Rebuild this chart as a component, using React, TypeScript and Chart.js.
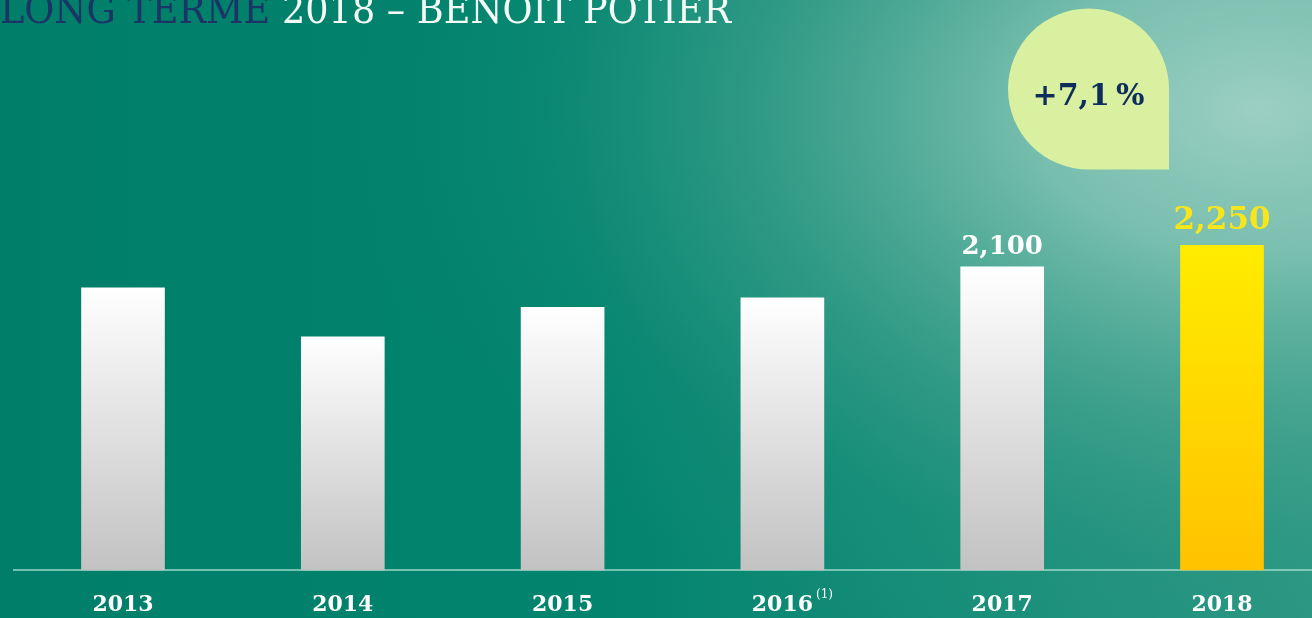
import React, { useEffect, useRef } from "react";
import { Chart, registerables } from "chart.js";

Chart.register(...registerables);

const years = ["2013", "2014", "2015", "2016", "2017", "2018"];
const values = [1955, 1615, 1820, 1885, 2100, 2250];
const footnotes = ["", "", "", "(1)", "", ""];
const labelledIndices = [4, 5];
const titleParts = ["LONG TERME ", "2018 – BENOIT POTIER"];
const titleColors = ["#1b3466", "#f3faf6"];

const SERIF = "'DejaVu Serif', serif";

function barFill(ctx: any) {
  const chart = ctx.chart;
  const last = ctx.dataIndex === values.length - 1;
  const y = chart.scales && chart.scales.y;
  if (!y || ctx.dataIndex === undefined) return last ? "#ffd800" : "#e8e8e8";
  const v = values[ctx.dataIndex];
  const top = y.getPixelForValue(v);
  const base = y.getPixelForValue(0);
  if (!isFinite(top) || !isFinite(base) || top === base) return last ? "#ffd800" : "#e8e8e8";
  const g = chart.ctx.createLinearGradient(0, top, 0, base);
  if (last) {
    g.addColorStop(0, "#ffec00");
    g.addColorStop(1, "#ffc200");
  } else {
    g.addColorStop(0, "#ffffff");
    g.addColorStop(1, "#c2c2c2");
  }
  return g;
}

const decorPlugin = {
  id: "decor",
  beforeDraw(chart: any) {
    const { ctx, width, height } = chart;
    ctx.save();
    const lin = ctx.createLinearGradient(0, 0, width, 0);
    lin.addColorStop(0, "#007e69");
    lin.addColorStop(0.45, "#02846e");
    lin.addColorStop(1, "#2a9682");
    ctx.fillStyle = lin;
    ctx.fillRect(0, 0, width, height);

    // elliptical light glow toward the top right
    ctx.save();
    ctx.translate(1260, 110);
    ctx.scale(1, 0.62);
    const rad = ctx.createRadialGradient(0, 0, 0, 0, 0, 920);
    rad.addColorStop(0, "rgba(165,212,200,0.92)");
    rad.addColorStop(0.25, "rgba(145,203,188,0.78)");
    rad.addColorStop(0.55, "rgba(105,182,163,0.38)");
    rad.addColorStop(0.8, "rgba(80,170,150,0.08)");
    rad.addColorStop(1, "rgba(80,170,150,0)");
    ctx.fillStyle = rad;
    ctx.fillRect(-1400, -400, 2800, 1600);
    ctx.restore();

    // title
    const full = titleParts.join("");
    ctx.font = `40px ${SERIF}`;
    const wFull = ctx.measureText(full).width;
    const sx = 731 / wFull;
    ctx.save();
    ctx.translate(0, 23);
    ctx.scale(sx, 1);
    ctx.textBaseline = "alphabetic";
    ctx.textAlign = "left";
    let x = 0;
    titleParts.forEach((p, i) => {
      ctx.fillStyle = titleColors[i];
      ctx.fillText(p, x, 0);
      x += ctx.measureText(p).width;
    });
    ctx.restore();

    // bubble
    const cx = 1088.5, cy = 89, r = 80.5;
    ctx.beginPath();
    ctx.moveTo(cx + r, cy);
    ctx.lineTo(cx + r, cy + r);
    ctx.lineTo(cx, cy + r);
    ctx.arc(cx, cy, r, Math.PI / 2, Math.PI * 2);
    ctx.closePath();
    ctx.fillStyle = "#d9f0a1";
    ctx.fill();
    const pct = (values[5] / values[4] - 1) * 100;
    const pctText = "+" + pct.toFixed(1).replace(".", ",") + "\u202F%";
    ctx.font = `bold 30px ${SERIF}`;
    ctx.fillStyle = "#0f2d5a";
    ctx.textAlign = "center";
    ctx.textBaseline = "middle";
    ctx.fillText(pctText, cx, 97);
    ctx.restore();
  },
  beforeDatasetsDraw(chart: any) {
    const { ctx } = chart;
    const base = chart.scales.y.getPixelForValue(0);
    ctx.save();
    ctx.strokeStyle = "rgba(170,225,210,0.9)";
    ctx.lineWidth = 1.5;
    ctx.beginPath();
    ctx.moveTo(13, base);
    ctx.lineTo(chart.width, base);
    ctx.stroke();
    ctx.restore();
  },
  afterDatasetsDraw(chart: any) {
    const { ctx } = chart;
    const meta = chart.getDatasetMeta(0);
    ctx.save();
    ctx.textAlign = "center";
    ctx.textBaseline = "alphabetic";
    labelledIndices.forEach((i) => {
      const bar = meta.data[i];
      const last = i === values.length - 1;
      ctx.font = last ? `bold 31px ${SERIF}` : `bold 26px ${SERIF}`;
      ctx.fillStyle = last ? "#f7e61c" : "#ffffff";
      ctx.fillText(values[i].toLocaleString("en-US"), bar.x, bar.y - (last ? 16 : 13));
    });
    const xs = chart.scales.x;
    footnotes.forEach((f, i) => {
      if (!f) return;
      ctx.font = `bold 22px ${SERIF}`;
      const px = xs.getPixelForTick(i);
      const tw = ctx.measureText(years[i]).width;
      ctx.font = `12px ${SERIF}`;
      ctx.fillStyle = "#ffffff";
      ctx.textAlign = "left";
      ctx.fillText(f, px + tw / 2 + 3, 598);
    });
    ctx.restore();
  },
};

export default function App() {
  const ref = useRef<HTMLCanvasElement>(null);
  useEffect(() => {
    if (!ref.current) return;
    const chart = new Chart(ref.current, {
      type: "bar",
      data: {
        labels: years,
        datasets: [
          {
            data: values,
            backgroundColor: barFill as any,
            borderWidth: 0,
            barThickness: 83,
            clip: false as any,
          },
        ],
      },
      options: {
        animation: false,
        responsive: true,
        maintainAspectRatio: false,
        layout: { padding: { left: 123, right: 90, top: 137, bottom: 0 } },
        plugins: { legend: { display: false }, tooltip: { enabled: false }, title: { display: false } },
        scales: {
          x: {
            offset: false,
            grid: { display: false, drawTicks: false },
            border: { display: false },
            ticks: {
              color: "#ffffff",
              font: { family: "'DejaVu Serif', serif", size: 22, weight: "bold" },
              padding: 22,
              maxRotation: 0,
              autoSkip: false,
            },
            afterFit: (s: any) => {
              s.height = 48;
            },
          },
          y: { display: false, min: 0, max: 3000 },
        },
      },
      plugins: [decorPlugin],
    });
    return () => chart.destroy();
  }, []);
  return (
    <div style={{ position: "absolute", left: 0, top: 0, width: 1312, height: 618, overflow: "hidden" }}>
      <canvas ref={ref} />
    </div>
  );
}
